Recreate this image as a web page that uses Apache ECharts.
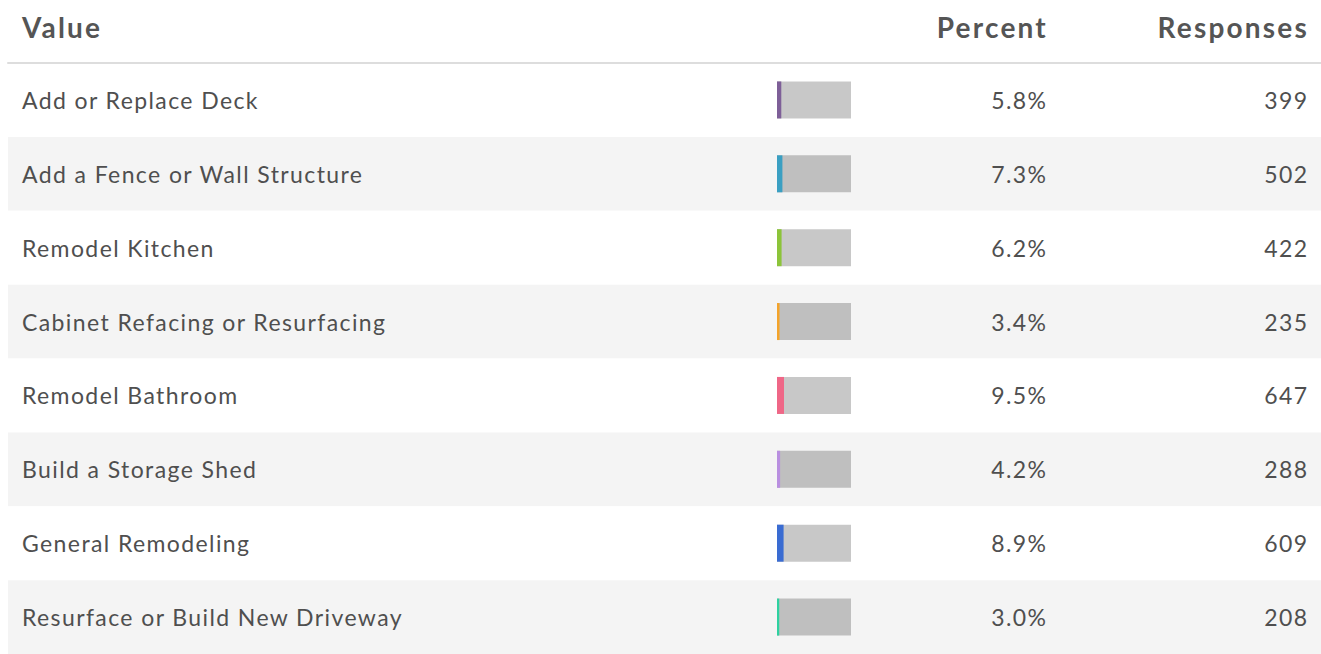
<!DOCTYPE html>
<html><head><meta charset="utf-8">
<script src="https://cdn.jsdelivr.net/npm/echarts@6/dist/echarts.min.js"></script>
<style>
html,body{margin:0;padding:0;background:#fff}
#c{width:1321px;height:654px}
#c text{letter-spacing:1.4px}
#c text[style*="28px"]{letter-spacing:2.2px}
</style>
</head><body><div id="c"></div>
<script>
const categories = ["Add or Replace Deck","Add a Fence or Wall Structure","Remodel Kitchen","Cabinet Refacing or Resurfacing","Remodel Bathroom","Build a Storage Shed","General Remodeling","Resurface or Build New Driveway"];
const percents = [5.8, 7.3, 6.2, 3.4, 9.5, 4.2, 8.9, 3.0];
const responses = [399, 502, 422, 235, 647, 288, 609, 208];
const colors = ["#7e5f98","#3a9fc2","#8cc43a","#f4a32a","#ef6787","#b98fe0","#3a6cd2","#2ed1a0"];
const headers = ["Value","Percent","Responses"];

const FONT = 'Lato';
const HFONT = 'bold 28px Lato';
const chart = echarts.init(document.getElementById('c'), null, {renderer: 'svg'});
chart.setOption({
  animation: false,
  grid: [
    {left: 8, right: 0, top: 63, height: 600},
    {left: 777, width: 74, top: 63, height: 600}
  ],
  xAxis: [
    {gridIndex: 0, type: 'value', position: 'top', min: 0, max: 1,
     axisLine: {show: true, onZero: false, lineStyle: {color: '#dddddd', width: 2}},
     axisTick: {show: false}, axisLabel: {show: false}, splitLine: {show: false}},
    {gridIndex: 1, type: 'value', min: 0, max: 100, show: false}
  ],
  yAxis: [
    {gridIndex: 0, type: 'category', inverse: true, data: categories,
     axisLine: {show: false}, axisTick: {show: false},
     splitArea: {show: true, areaStyle: {color: ['#ffffff', '#f4f4f4']}},
     axisLabel: {inside: true, margin: 14, color: '#4f4f4f', fontFamily: FONT, fontSize: 23}},
    {gridIndex: 0, type: 'category', inverse: true, position: 'right', offset: -261,
     data: percents.map(p => p.toFixed(1) + '%'),
     axisLine: {show: false}, axisTick: {show: false},
     axisLabel: {inside: true, margin: 12.6, color: '#4f4f4f', fontFamily: FONT, fontSize: 23}},
    {gridIndex: 0, type: 'category', inverse: true, position: 'right', offset: 0,
     data: responses.map(String),
     axisLine: {show: false}, axisTick: {show: false},
     axisLabel: {inside: true, margin: 12.6, color: '#4f4f4f', fontFamily: FONT, fontSize: 23}},
    {gridIndex: 1, type: 'category', inverse: true, data: categories, show: false}
  ],
  series: [{
    type: 'bar', xAxisIndex: 1, yAxisIndex: 3, barWidth: 37,
    showBackground: true,
    backgroundStyle: {color: 'rgba(0,0,0,0.216)'},
    data: percents.map((p, i) => ({value: p, itemStyle: {color: colors[i]}}))
  }],
  graphic: [
    {type: 'text', x: 22, y: 27, style: {text: headers[0], font: HFONT, fill: '#555555', textAlign: 'left', textVerticalAlign: 'middle'}},
    {type: 'text', x: 1048, y: 27, style: {text: headers[1], font: HFONT, fill: '#555555', textAlign: 'right', textVerticalAlign: 'middle'}},
    {type: 'text', x: 1309, y: 27, style: {text: headers[2], font: HFONT, fill: '#555555', textAlign: 'right', textVerticalAlign: 'middle'}}
  ]
});
</script></body></html>
